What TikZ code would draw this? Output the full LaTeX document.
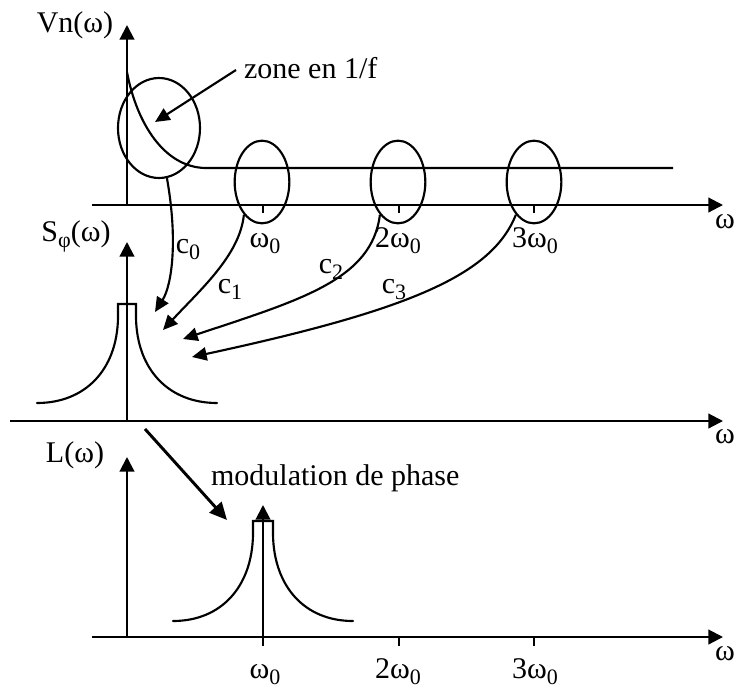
\documentclass[tikz,border=0pt]{standalone}
\usepackage{fontspec}
\setmainfont{Liberation Serif}
\usetikzlibrary{arrows.meta,shapes.geometric}

\tikzset{
  ax/.style={-{Triangle[length=11pt,width=11pt]}},
  crv/.style={-{Triangle[length=11pt,width=10pt]}},
  zone/.style={draw,ellipse,inner sep=0pt,minimum width=41pt,minimum height=62pt},
  lbl/.style={inner sep=0pt,anchor=base,font=\fontsize{22.5}{27}\selectfont},
  peak/.style={line cap=round},
}
\newcommand{\sub}[1]{\raisebox{-0.22em}{\fontsize{16.5}{18}\selectfont #1}}
\newcommand{\wo}{ω\sub{0}}

\begin{document}
\begin{tikzpicture}[x=0.75pt,y=-0.75pt,line width=1.6pt]
    \useasboundingbox (0,0) rectangle (738,689);

    % Vn(w)
    \coordinate (o1) at (127,205);
    \coordinate (y1) at (127,25);
    \coordinate (a1) at (92,205);
    \coordinate (x1) at (723,205);
    \node[lbl] (lvn) at (75,32) {Vn(ω)};
    \node[lbl,anchor=base east] (w1) at (736,228) {ω};
    \draw[ax] (o1) -- (y1);
    \draw[ax] (a1) -- (x1);
    \foreach \x in {263,399,534}
        \draw (\x,205) -- (\x,213);
    \draw (127,72) .. controls (137,125) and (165,167) .. (205,168) -- (673,168);
    \node[lbl] (t1) at (265,247) {\wo};
    \node[lbl] (t2) at (398,247) {2\wo};
    \node[lbl] (t3) at (535,247) {3\wo};

    \node[zone,minimum width=61.5pt,minimum height=75pt] (e0) at (159,128) {};
    \node[zone] (e1) at (262,182) {};
    \node[zone] (e2) at (398,182) {};
    \node[zone] (e3) at (534,182) {};

    \node[lbl,anchor=base west] (zt) at (243,78) {zone en 1/f};
    \coordinate (zs) at (236,70);
    \coordinate (zp) at (155,122);
    \draw[crv] (zs) -- (zp);

    % S_phi(w)
    \coordinate (o2) at (127,421);
    \coordinate (y2) at (127,242);
    \coordinate (a2) at (10,421);
    \coordinate (x2) at (723,421);
    \node[lbl] (lsp) at (76,241) {S\sub{φ}(ω)};
    \node[lbl,anchor=base east] (w2) at (736,443) {ω};
    \draw[ax] (o2) -- (y2);
    \draw[ax] (a2) -- (x2);
    \draw[peak,shift={(127,304)}] (-90,99) .. controls (-42,99) and (-10,66) .. (-9,14)
        -- (-9,0) -- (9,0) -- (9,14) .. controls (10,66) and (42,99) .. (90,99);

    \coordinate (p0) at (155,312);
    \coordinate (p1) at (163,330);
    \coordinate (p2) at (183,339);
    \coordinate (p3) at (192,357);
    \draw[crv] (e0.279) .. controls (178,240) and (172,285) .. (p0);
    \draw[crv] (e1.241) .. controls (240,255) and (200,290) .. (p1);
    \draw[crv] (e2.241) .. controls (372,280) and (300,300) .. (p2);
    \draw[crv] (e3.241) .. controls (492,275) and (410,310) .. (p3);
    \node[lbl] (c0) at (188,253) {c\sub{0}};
    \node[lbl] (c1) at (230,293) {c\sub{1}};
    \node[lbl] (c2) at (331,273) {c\sub{2}};
    \node[lbl] (c3) at (394,293) {c\sub{3}};

    % L(w)
    \coordinate (m1) at (145,429);
    \coordinate (m2) at (227,520);
    \draw[line width=2.2pt,-{Triangle[length=13pt,width=12pt]}] (m1) -- (m2);
    \node[lbl,anchor=base west] (mod) at (210,485) {modulation de phase};

    \coordinate (o3) at (127,637);
    \coordinate (y3) at (127,457);
    \coordinate (a3) at (92,637);
    \coordinate (x3) at (723,637);
    \node[lbl] (ll) at (75,462) {L(ω)};
    \node[lbl,anchor=base east] (w3) at (736,660) {ω};
    \draw[ax] (o3) -- (y3);
    \draw[ax] (a3) -- (x3);
    \foreach \x in {263,399,534}
        \draw (\x,637) -- (\x,646);
    \coordinate (q0) at (263,645);
    \coordinate (q1) at (263,505);
    \draw[ax] (q0) -- (q1);
    \draw[peak,shift={(263,521)}] (-90,100) .. controls (-42,100) and (-11,66) .. (-10,14)
        -- (-10,0) -- (10,0) -- (10,14) .. controls (11,66) and (42,100) .. (90,100);
    \node[lbl] (b1) at (265,678) {\wo};
    \node[lbl] (b2) at (398,678) {2\wo};
    \node[lbl] (b3) at (535,678) {3\wo};
\end{tikzpicture}
\end{document}
